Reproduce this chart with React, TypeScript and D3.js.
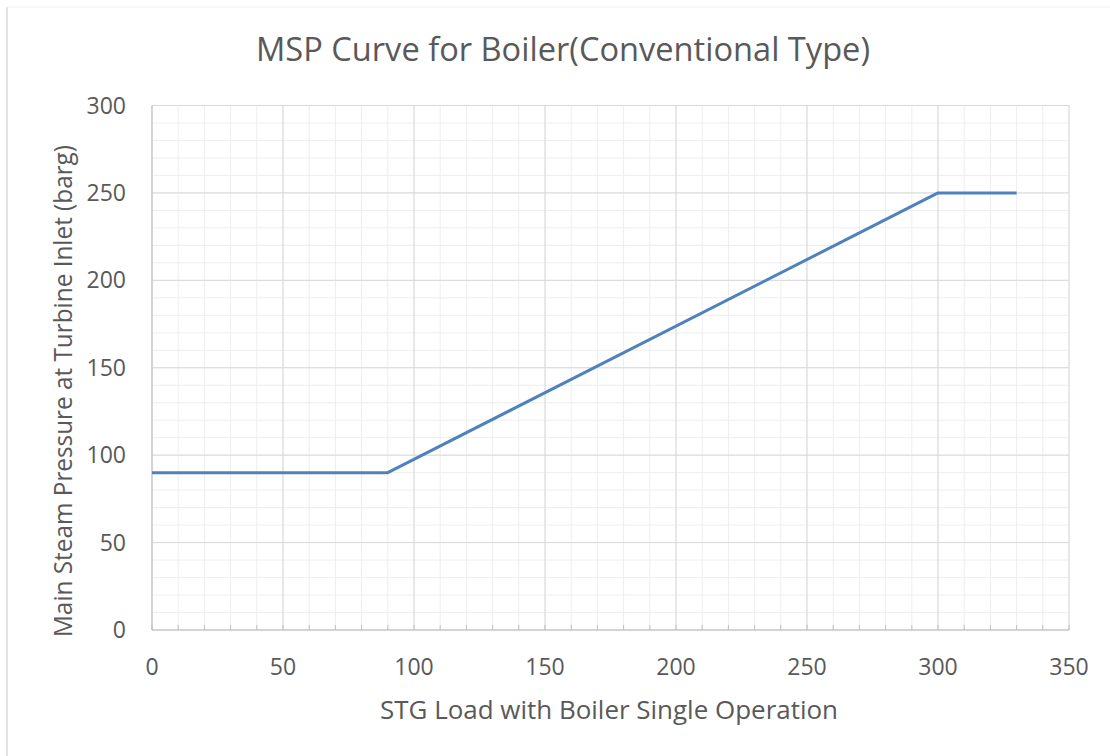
import React from "react";
import * as d3 from "d3";

const loads = [0, 90, 300, 330];
const pressures = [90, 90, 250, 250];
const xTicks = [0, 50, 100, 150, 200, 250, 300, 350];
const yTicks = [0, 50, 100, 150, 200, 250, 300];
const titleText = "MSP Curve for Boiler(Conventional Type)";
const xTitle = "STG Load with Boiler Single Operation";
const yTitle = "Main Steam Pressure at Turbine Inlet (barg)";

export default function App() {
  const W = 1110, H = 756;
  const left = 152, right = 1069, top = 105.5, bottom = 630;
  const x = d3.scaleLinear().domain([0, 350]).range([left, right]);
  const y = d3.scaleLinear().domain([0, 300]).range([bottom, top]);
  const minorX = d3.range(0, 351, 10);
  const minorY = d3.range(0, 301, 10);
  const pts = loads.map((l, i) => [x(l), y(pressures[i])] as [number, number]);
  const line = d3.line()(pts) || "";
  const font = "'Open Sans', Lato, sans-serif";
  const txt = "#595959";
  return (
    <svg width={W} height={H} style={{ position: "absolute", left: 0, top: 0 }}>
      <rect x={0} y={0} width={W} height={H} fill="#fff" />
      <line x1={7} y1={7} x2={7} y2={H} stroke="#d9d9d9" strokeWidth={1.5} />
      <line x1={7} y1={7} x2={W} y2={7} stroke="#f2f2f2" strokeWidth={1} />
      {minorX.map((v) => (
        <line key={"mx" + v} x1={x(v)} x2={x(v)} y1={top} y2={bottom} stroke="#eeeeee" strokeWidth={1} />
      ))}
      {minorY.map((v) => (
        <line key={"my" + v} x1={left} x2={right} y1={y(v)} y2={y(v)} stroke="#eeeeee" strokeWidth={1} />
      ))}
      {xTicks.map((v) => (
        <line key={"Mx" + v} x1={x(v)} x2={x(v)} y1={top} y2={bottom} stroke="#d9d9d9" strokeWidth={1} />
      ))}
      {yTicks.map((v) => (
        <line key={"My" + v} x1={left} x2={right} y1={y(v)} y2={y(v)} stroke="#d9d9d9" strokeWidth={1} />
      ))}
      {minorX.map((v) => (
        <line key={"tx" + v} x1={x(v)} x2={x(v)} y1={bottom - 5} y2={bottom} stroke="#bfbfbf" strokeWidth={1} />
      ))}
      <line x1={left} x2={left} y1={top} y2={bottom} stroke="#bfbfbf" strokeWidth={1} />
      <line x1={left} x2={right} y1={bottom} y2={bottom} stroke="#bfbfbf" strokeWidth={1.2} />
      <path d={line} fill="none" stroke="#4F81BD" strokeWidth={3} strokeLinejoin="round" />
      {xTicks.map((v) => (
        <text key={"lx" + v} x={x(v)} y={675} textAnchor="middle" fontFamily={font} fontSize={23} fill={txt}>
          {v}
        </text>
      ))}
      {yTicks.map((v) => (
        <text key={"ly" + v} x={126} y={y(v) + 8} textAnchor="end" fontFamily={font} fontSize={23} fill={txt}>
          {v}
        </text>
      ))}
      <text x={563} y={61} textAnchor="middle" fontFamily={font} fontSize={32} fill={txt} textLength={614} lengthAdjust="spacingAndGlyphs">
        {titleText}
      </text>
      <text x={609} y={719} textAnchor="middle" fontFamily={font} fontSize={25} fill={txt} textLength={458} lengthAdjust="spacingAndGlyphs">
        {xTitle}
      </text>
      <text
        transform={`translate(72, 391) rotate(-90)`}
        textAnchor="middle"
        fontFamily={font}
        fontSize={25}
        fill={txt}
        textLength={492}
        lengthAdjust="spacingAndGlyphs"
      >
        {yTitle}
      </text>
    </svg>
  );
}
